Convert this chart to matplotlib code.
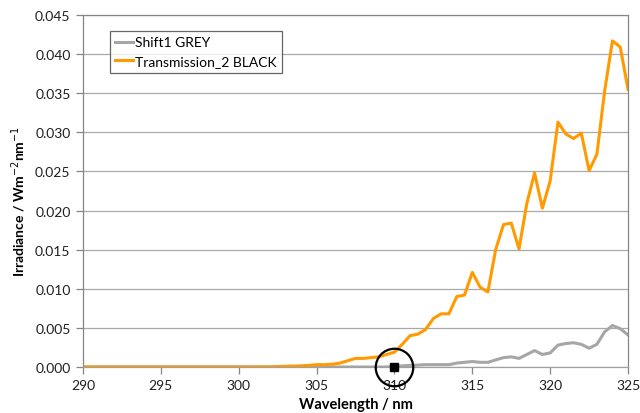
import matplotlib
matplotlib.use("Agg")
import matplotlib.pyplot as plt
from matplotlib.ticker import FormatStrFormatter, MultipleLocator

plt.rcParams['font.family'] = ['Lato', 'DejaVu Sans']

wavelength = [290 + 0.5 * i for i in range(71)]

shift1_grey = [0.0] * 40 + [
    0.0001, 0.00015, 0.0002, 0.00025, 0.0003, 0.0003, 0.0003, 0.0003,
    0.0005, 0.0006, 0.0007, 0.0006, 0.0006, 0.0009, 0.0012, 0.0013,
    0.0011, 0.0016, 0.0021, 0.0016, 0.0018, 0.0028, 0.0030, 0.0031,
    0.0029, 0.0024, 0.0029, 0.0045, 0.0053, 0.0049, 0.0041]

transmission_black = [0.0] * 23 + [
    0.00001, 0.00002, 0.00005, 0.0001, 0.00012, 0.00015, 0.0002,
    0.0003, 0.0003, 0.00035, 0.0005, 0.0008, 0.0011, 0.0011, 0.0012,
    0.0013, 0.0016, 0.0019, 0.0029, 0.0040, 0.0042, 0.0048, 0.0062,
    0.0068, 0.0068, 0.0090, 0.0092, 0.0121, 0.0102, 0.0096, 0.0150,
    0.0182, 0.0184, 0.0151, 0.0209, 0.0248, 0.0203, 0.0238, 0.0313,
    0.0298, 0.0292, 0.0299, 0.0251, 0.0272, 0.0353, 0.0417, 0.0409,
    0.0355]

marker_x = [310]
marker_y = [0.0]

fig = plt.figure(figsize=(6.4, 4.14), dpi=100)
ax = fig.add_axes([0.1297, 0.1111, 0.8516, 0.8503])

ax.plot(wavelength, shift1_grey, color='#A6A6A6', lw=2.2, label='Shift1 GREY',
        solid_joinstyle='round')
ax.plot(wavelength, transmission_black, color='#FF9A00', lw=2.2,
        label='Transmission_2 BLACK', solid_joinstyle='round')

ax.plot(marker_x, marker_y, 'o', ms=27, mfc='none', mec='black', mew=1.6,
        clip_on=False, zorder=5)
ax.plot(marker_x, marker_y, 's', ms=6, color='black', clip_on=False, zorder=6)

ax.set_xlim(290, 325)
ax.set_ylim(0, 0.045)
ax.xaxis.set_major_locator(MultipleLocator(5))
ax.yaxis.set_major_locator(MultipleLocator(0.005))
ax.yaxis.set_major_formatter(FormatStrFormatter('%.3f'))
ax.grid(axis='y', color='#A9A9A9', lw=0.9)
ax.set_axisbelow(True)

for s in ax.spines.values():
    s.set_color('#868686')
    s.set_linewidth(0.9)
ax.spines['bottom'].set_color('#A0A0A0')

ax.tick_params(axis='both', direction='out', length=5, width=0.9,
               color='#868686', labelsize=10, labelcolor='#202020')
ax.tick_params(axis='y', pad=4)

ax.set_xlabel('Wavelength / nm', fontsize=10.5, fontweight='bold')
ax.xaxis.set_label_coords(0.5, -0.104, transform=ax.transAxes)
ax.xaxis.label.set_verticalalignment('center')
ax.set_ylabel('Irradiance / Wm$^{-2}$nm$^{-1}$', fontsize=10,
              fontweight='bold')
ax.yaxis.set_label_coords(-0.118, 0.474)
ax.yaxis.label.set_verticalalignment('center')

leg = ax.legend(loc='upper left', bbox_to_anchor=(0.049, 0.955), fontsize=10,
                frameon=True, fancybox=False, handlelength=1.3,
                handletextpad=0.1, borderpad=0.4, labelspacing=0.5,
                borderaxespad=0)
leg.get_frame().set_edgecolor('#404040')
leg.get_frame().set_linewidth(0.9)

fig.savefig('out.png', dpi=100)
